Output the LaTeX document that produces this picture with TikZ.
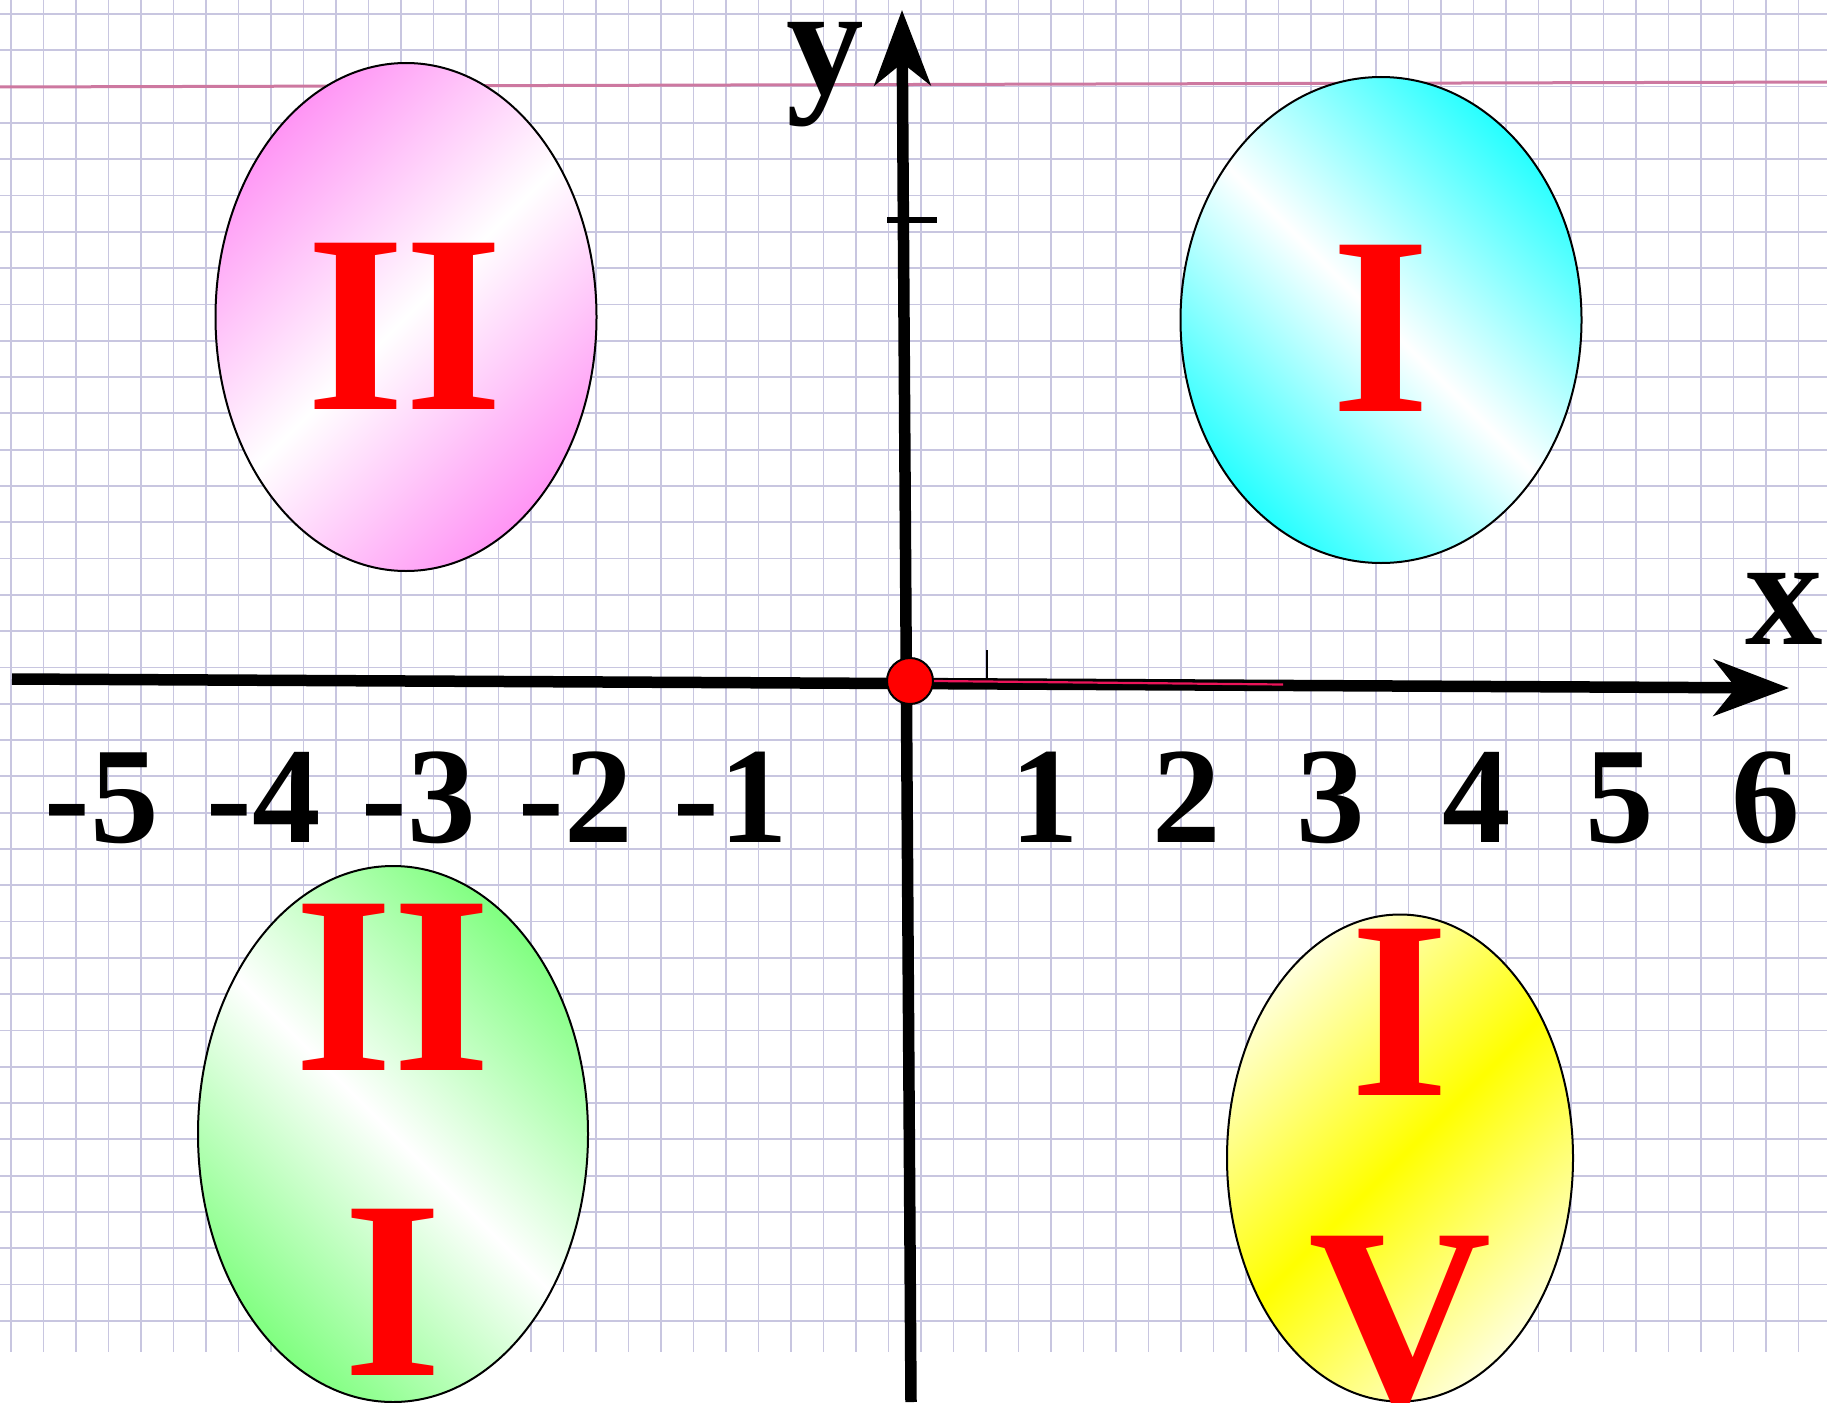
\documentclass[tikz,border=0pt]{standalone}
\usepackage{fontspec}
\setmainfont{Liberation Serif}
\usetikzlibrary{arrows.meta,shapes.geometric}
\definecolor{gridc}{RGB}{200,198,224}
\definecolor{topline}{RGB}{205,120,160}
\definecolor{pinkq}{RGB}{255,150,245}
\definecolor{cyanq}{RGB}{40,255,255}
\definecolor{greenq}{RGB}{130,255,130}
\definecolor{yellowq}{RGB}{255,255,0}
\definecolor{yellowl}{RGB}{255,255,215}
\definecolor{axispink}{RGB}{235,20,90}
\begin{document}
\begin{tikzpicture}[x=1pt,y=-1pt,
  gridline/.style={draw=gridc, line width=1.8pt},
  quad/.style={ellipse, draw=black, line width=2pt, inner sep=0pt},
  numeral/.style={text=red, font=\fontsize{254}{254}\selectfont\bfseries, inner sep=0pt, anchor=base},
  ticklabel/.style={text=black, font=\fontsize{137}{137}\selectfont\bfseries, inner sep=0pt, anchor=base},
  axislabel/.style={text=black, font=\fontsize{155}{155}\selectfont\bfseries, inner sep=0pt, anchor=base},
  axisline/.style={line width=11.5pt, -{Stealth[length=75pt,width=56pt,inset=22pt]}}
]
\useasboundingbox (0,0) rectangle (1827,1402);
\fill[white] (0,0) rectangle (1827,1402);
% grid
\foreach \i in {0,...,55} \draw[gridline] ({11+32.5*\i},0) -- ({11+32.5*\i},1352);
\foreach \j in {0,...,36} \draw[gridline] (0,{14+36.3*\j}) -- (1827,{14+36.3*\j});
\draw[topline, line width=3pt] (0,87) -- (1827,82);
% quadrant ellipses
\node[quad, minimum width=381pt, minimum height=508pt, left color=pinkq, right color=pinkq, middle color=white, shading angle=45] (q2) at (406,317) {};
\node[quad, minimum width=401pt, minimum height=486pt, left color=cyanq, right color=cyanq, middle color=white, shading angle=-45] (q1) at (1381,320) {};
\node[quad, minimum width=390pt, minimum height=536pt, left color=greenq, right color=greenq, middle color=white, shading angle=-45] (q3) at (393,1134) {};
\node[quad, minimum width=346pt, minimum height=487pt, left color=yellowl, right color=yellowl, middle color=yellowq, shading angle=45] (q4) at (1400,1158) {};
% numerals
\node[numeral] (n2) at (405,409) {II};
\node[numeral] (n1) at (1381,411) {I};
\node[numeral] (n3a) at (393,1070) {II};
\node[numeral] (n3b) at (393,1375) {I};
\node[numeral] (n4a) at (1400,1095) {I};
\node[numeral] (n4b) at (1400,1402) {V};
% axes
\coordinate (xs) at (12,679);
\coordinate (xe) at (1789,688);
\coordinate (ys) at (911,1402);
\coordinate (ye) at (902,10);
\draw[axisline] (xs) -- (xe);
\draw[axisline] (ys) -- (ye);
\coordinate (yt1) at (887,220);
\coordinate (yt2) at (937,220);
\draw[line width=6pt] (yt1) -- (yt2);
\coordinate (xt1) at (987,650);
\coordinate (xt2) at (987,679);
\draw[line width=1.5pt] (xt1) -- (xt2);
\coordinate (pe) at (1283,684.5);
\node[circle, fill=red, draw=black, line width=2pt, minimum size=46pt, inner sep=0pt] (o) at (910,681) {};
\draw[axispink, line width=2.2pt] (o.east) -- (pe);
% axis labels
\node[axislabel] (ly) at (825,94) {y};
\node[axislabel] (lx) at (1784,644) {x};
% tick labels
\node[ticklabel] (m5) at (102,842) {-5};
\node[ticklabel] (m4) at (264,842) {-4};
\node[ticklabel] (m3) at (419,842) {-3};
\node[ticklabel] (m2) at (576,842) {-2};
\node[ticklabel] (m1) at (731,842) {-1};
\node[ticklabel] (p1) at (1045,842) {1};
\node[ticklabel] (p2) at (1187,842) {2};
\node[ticklabel] (p3) at (1331,842) {3};
\node[ticklabel] (p4) at (1477,842) {4};
\node[ticklabel] (p5) at (1620,842) {5};
\node[ticklabel] (p6) at (1766,842) {6};
\end{tikzpicture}
\end{document}
